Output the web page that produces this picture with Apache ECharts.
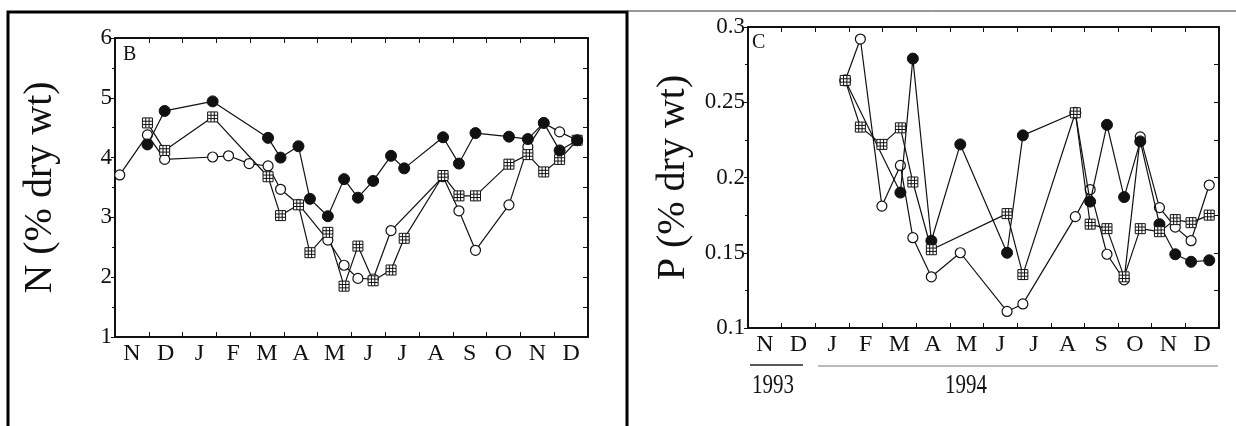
<!DOCTYPE html>
<html>
<head>
<meta charset="utf-8">
<script src="https://cdn.jsdelivr.net/npm/echarts@6/dist/echarts.min.js"></script>
<style>
html, body { margin: 0; padding: 0; background: #fff; }
#chart { width: 1236px; height: 426px; }
</style>
</head>
<body>
<div id="chart"></div>
<script>
// month bands, Nov 1993 .. Dec 1994
var monthLabels = ['N', 'D', 'J', 'F', 'M', 'A', 'M', 'J', 'J', 'A', 'S', 'O', 'N', 'D'];

// panel B : N (% dry wt), sampling time in months from 1 Nov 1993
var nTimes  = [0.14, 0.96, 1.47, 2.89, 3.36, 3.97, 4.53, 4.9, 5.43, 5.77, 6.3, 6.78, 7.19, 7.64, 8.17, 8.56, 9.71, 10.18, 10.67, 11.66, 12.22, 12.69, 13.16, 13.68];
var nFilled = [null, 4.22, 4.78, 4.94, null, null, 4.33, 4.0, 4.19, 3.31, 3.02, 3.64, 3.33, 3.61, 4.03, 3.82, 4.34, 3.90, 4.41, 4.35, 4.31, 4.58, 4.12, 4.29];
var nOpen   = [3.71, 4.38, 3.97, 4.01, 4.03, 3.90, 3.86, 3.47, 3.22, null, 2.62, 2.20, 1.98, 1.97, 2.78, null, 3.68, 3.11, 2.45, 3.21, 4.18, 4.58, 4.43, 4.29];
var nSquare = [null, 4.58, 4.12, 4.68, null, null, 3.68, 3.03, 3.21, 2.41, 2.75, 1.85, 2.52, 1.94, 2.12, 2.65, 3.70, 3.36, 3.36, 3.89, 4.05, 3.76, 3.97, 4.29];

// panel C : P (% dry wt)
var pTimes  = [2.89, 3.34, 3.98, 4.53, 4.9, 5.45, 6.31, 7.7, 8.17, 9.73, 10.17, 10.67, 11.18, 11.66, 12.23, 12.7, 13.17, 13.71];
var pFilled = [0.2645, null, null, 0.190, 0.279, 0.158, 0.222, 0.150, 0.228, 0.243, 0.184, 0.235, 0.187, 0.224, 0.169, 0.149, 0.144, 0.145];
var pOpen   = [0.2645, 0.292, 0.181, 0.208, 0.160, 0.134, 0.150, 0.111, 0.116, 0.174, 0.192, 0.149, 0.132, 0.227, 0.180, 0.167, 0.158, 0.195];
var pSquare = [0.2645, 0.2335, 0.222, 0.233, 0.197, 0.152, null, 0.176, 0.1355, 0.243, 0.169, 0.166, 0.134, 0.166, 0.164, 0.172, 0.170, 0.175];

var serif = '"Liberation Serif", "DejaVu Serif", serif';
var ink = '#111';
var squareSym = 'path://M0,0H12V12H0Z M4,0V12 M8,0V12 M0,4H12 M0,8H12';

function pairs(times, vals) {
    var out = [];
    for (var i = 0; i < times.length; i++) {
        if (vals[i] !== null) out.push([times[i], vals[i]]);
    }
    return out;
}

function mkSeries(grid, times, vals, kind, z) {
    var s = {
        type: 'line',
        xAxisIndex: grid * 2,
        yAxisIndex: grid * 2,
        data: pairs(times, vals),
        lineStyle: { color: ink, width: 1.2 },
        animation: false,
        z: z
    };
    if (kind == 'filled') {
        s.symbol = 'circle'; s.symbolSize = 11;
        s.itemStyle = { color: ink, borderColor: ink, borderWidth: 1 };
    } else if (kind == 'open') {
        s.symbol = 'circle'; s.symbolSize = 10;
        s.itemStyle = { color: '#fff', borderColor: ink, borderWidth: 1.2 };
    } else {
        s.symbol = squareSym; s.symbolSize = 10;
        s.itemStyle = { color: '#fff', borderColor: ink, borderWidth: 1 };
    }
    return s;
}

function xAxes(grid) {
    return [{
        gridIndex: grid, type: 'value', position: 'top', min: 0, max: 14, interval: 1,
        axisLine: { show: true, lineStyle: { color: ink, width: 2 } },
        axisTick: { show: true, inside: true, length: 5, lineStyle: { color: ink } },
        axisLabel: { show: false }, splitLine: { show: false }
    }, {
        gridIndex: grid, type: 'category', position: 'bottom', data: monthLabels, boundaryGap: true,
        axisLine: { show: true, lineStyle: { color: ink, width: 2 } },
        axisTick: { show: true, inside: true, length: 5, interval: 0, lineStyle: { color: ink } },
        axisLabel: { interval: 0, color: ink, fontFamily: serif, fontSize: 24, margin: 5 },
        splitLine: { show: false }
    }];
}

function yAxes(grid, min, max, step, minorStep, title) {
    return [{
        gridIndex: grid, type: 'value', position: 'left', min: min, max: max, interval: step,
        name: title, nameLocation: 'middle', nameGap: 55,
        nameTextStyle: { color: ink, fontFamily: serif, fontSize: 40 },
        axisLine: { show: true, lineStyle: { color: ink, width: 2 } },
        axisTick: { show: true, length: 4, lineStyle: { color: ink } },
        minorTick: { show: true, splitNumber: 2, length: 3, lineStyle: { color: ink } },
        axisLabel: { color: ink, fontFamily: serif, fontSize: 23, margin: 3 },
        splitLine: { show: false }, minorSplitLine: { show: false }
    }, {
        gridIndex: grid, type: 'value', position: 'right', min: min, max: max, interval: minorStep,
        axisLine: { show: true, lineStyle: { color: ink, width: 2 } },
        axisTick: { show: true, inside: true, length: 5, lineStyle: { color: ink } },
        axisLabel: { show: false }, splitLine: { show: false }
    }];
}

var myChart = echarts.init(document.getElementById('chart'));
var option = {
    backgroundColor: '#fff',
    animation: false,
    grid: [
        { left: 115, top: 38, width: 473, height: 299 },
        { left: 748, top: 27, width: 471, height: 301 }
    ],
    xAxis: xAxes(0).concat(xAxes(1)),
    yAxis: yAxes(0, 1, 6, 1, 0.5, 'N (% dry wt)').concat(yAxes(1, 0.1, 0.3, 0.05, 0.025, 'P (% dry wt)')),
    series: [
        mkSeries(0, nTimes, nOpen, 'open', 3),
        mkSeries(0, nTimes, nSquare, 'square', 3),
        mkSeries(0, nTimes, nFilled, 'filled', 4),
        mkSeries(1, pTimes, pOpen, 'open', 3),
        mkSeries(1, pTimes, pFilled, 'filled', 4),
        mkSeries(1, pTimes, pSquare, 'square', 5)
    ],
    graphic: [
        // outer frame
        { type: 'polyline', shape: { points: [[8, 426], [8, 12], [627, 12], [627, 426]] },
          style: { fill: null, stroke: '#000', lineWidth: 3 } },
        { type: 'line', shape: { x1: 627, y1: 11, x2: 1236, y2: 11 }, style: { stroke: '#333', lineWidth: 1 } },
        // panel letters
        { type: 'text', left: 123, top: 45, style: { text: 'B', font: '20px ' + serif, fill: ink } },
        { type: 'text', left: 752, top: 33, style: { text: 'C', font: '20px ' + serif, fill: ink } },
        // year marks under panel C
        { type: 'line', shape: { x1: 750, y1: 365, x2: 803, y2: 365 }, style: { stroke: '#222', lineWidth: 1.5 } },
        { type: 'line', shape: { x1: 818, y1: 366, x2: 1218, y2: 366 }, style: { stroke: '#777', lineWidth: 1 } },
        { type: 'text', x: 752, y: 372, scaleY: 1.3, style: { text: '1993', font: '21px ' + serif, fill: ink } },
        { type: 'text', x: 945, y: 372, scaleY: 1.3, style: { text: '1994', font: '21px ' + serif, fill: ink } }
    ]
};
myChart.setOption(option);
window.addEventListener('resize', function () {
    myChart.resize();
});
</script>
</body>
</html>
